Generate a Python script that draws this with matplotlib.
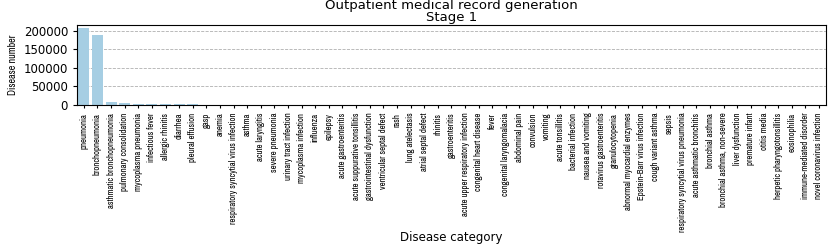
import matplotlib
matplotlib.use('Agg')
import matplotlib.pyplot as plt
import numpy as np

categories = [
    'pneumonia', 'bronchopneumonia', 'asthmatic bronchopneumonia', 'pulmonary consolidation',
    'mycoplasma pneumonia', 'infectious fever', 'allergic rhinitis', 'diarrhea', 'pleural effusion',
    'gasp', 'anemia', 'respiratory syncytial virus infection', 'asthma', 'acute laryngitis',
    'severe pneumonia', 'urinary tract infection', 'mycoplasma infection', 'influenza', 'epilepsy',
    'acute gastroenteritis', 'acute suppurative tonsillitis', 'gastrointestinal dysfunction',
    'ventricular septal defect', 'rash', 'lung atelectasis', 'atrial septal defect', 'rhinitis',
    'gastroenteritis', 'acute upper respiratory infection', 'congenital heart disease', 'fever',
    'congenital laryngomalacia', 'abdominal pain', 'convulsion', 'vomiting', 'acute tonsillitis',
    'bacterial infection', 'nausea and vomiting', 'rotavirus gastroenteritis', 'granulocytopenia',
    'abnormal myocardial enzymes', 'Epstein-Barr virus infection', 'cough variant asthma', 'sepsis',
    'respiratory syncytial virus pneumonia', 'acute asthmatic bronchitis', 'bronchial asthma',
    'bronchial asthma, non-severe', 'liver dysfunction', 'premature infant', 'otitis media',
    'herpetic pharyngotonsillitis', 'eosinophilia', 'immune-mediated disorder',
    'novel coronavirus infection',
]

counts = [
    206000, 187000, 8500, 6800, 3600, 2900, 2500, 2100, 1900, 1600,
    1400, 1300, 1200, 1100, 1000, 950, 900, 850, 800, 760,
    720, 690, 660, 630, 600, 570, 540, 510, 490, 470,
    450, 430, 410, 390, 370, 350, 335, 320, 305, 290,
    275, 260, 250, 240, 230, 220, 210, 200, 190, 180,
    170, 160, 150, 140, 130,
]

narrow = ['Archivo Narrow', 'PT Sans Narrow', 'DejaVu Sans']

fig = plt.figure(figsize=(8.31, 2.45), dpi=100)
ax = fig.add_axes([0.0927, 0.571, 0.901, 0.327])

x = np.arange(len(categories))
ax.bar(x, counts, width=0.8, color='#a6cee3', zorder=2)
ax.set_xlim(-0.5, len(categories) - 0.5)
ax.set_ylim(0, 215000)
ax.set_yticks([0, 50000, 100000, 150000, 200000])
ax.yaxis.grid(True, linestyle='--', color='#b0b0b0', linewidth=0.6, zorder=0)
ax.set_xticks(x)
ax.set_xticklabels(categories, rotation=90, fontsize=6.3, family=narrow)
ax.tick_params(axis='y', labelsize=8.5, length=3)
ax.tick_params(axis='x', length=2)
ax.set_ylabel('Disease number', fontsize=7.2, family=narrow)
ax.set_xlabel('Disease category', fontsize=8.5, va='top')
ax.xaxis.set_label_coords(0.5, -1.57)
ax.set_title('Outpatient medical record generation\nStage 1', fontsize=9.5, linespacing=0.9, pad=3)

fig.savefig('out.png', dpi=100)
